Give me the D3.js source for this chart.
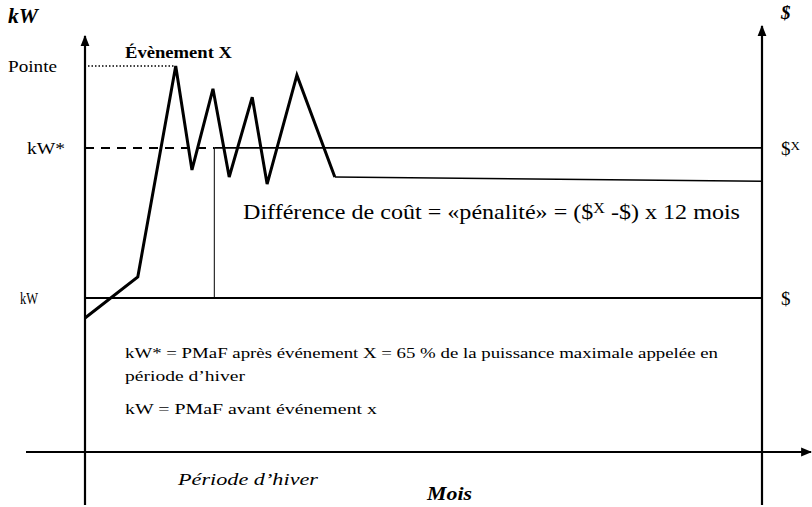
<!DOCTYPE html>
<html>
<head>
<meta charset="utf-8">
<script src="https://cdn.jsdelivr.net/npm/d3@7"></script>
<style>
body{margin:0;background:#fff;}
</style>
</head>
<body>
<div id="appbody"></div>
<script>
// schematic values, x in % of the year, y in % of the kW scale
var curveX = [0, 7.8, 13.4, 15.8, 18.9, 21.3, 24.7, 26.9, 31.3, 36.9];
var curveY = [32.2, 42.1, 92.8, 67.8, 87.3, 66.1, 85.3, 64.4, 90.6, 66.1];
var afterX = [36.9, 100];
var afterY = [66.1, 65.1];
var levelNames = ["Pointe", "kW*", "kW"];
var levelValues = [92.8, 73.1, 37.0];
var eventX = 19.1;
var pointeEndX = 13.3;

var svgwidth = 812, svgheight = 507;
var svg = d3.select("#appbody").append("svg")
	.attr("width", svgwidth).attr("height", svgheight);

var x = d3.scaleLinear().domain([0, 100]).range([85, 762]);
var y = d3.scaleLinear().domain([0, 100]).range([452, 36]);

var defs = svg.append("defs");
defs.append("marker").attr("id","arrow")
	.attr("viewBox","0 0 10 10").attr("refX",9).attr("refY",5)
	.attr("markerWidth",5).attr("markerHeight",5).attr("orient","auto")
	.append("path").attr("d","M0,1L10,5L0,9Z").attr("fill","#000");

// axes
svg.append("line").attr("x1",x(0)).attr("x2",x(0)).attr("y1",505).attr("y2",36)
	.attr("stroke","#000").attr("stroke-width",2.2).attr("marker-end","url(#arrow)");
svg.append("line").attr("x1",x(100)).attr("x2",x(100)).attr("y1",505).attr("y2",26)
	.attr("stroke","#000").attr("stroke-width",2.2).attr("marker-end","url(#arrow)");
svg.append("line").attr("x1",26).attr("x2",811).attr("y1",y(0)).attr("y2",y(0))
	.attr("stroke","#000").attr("stroke-width",2.2).attr("marker-end","url(#arrow)");

// levels
svg.append("line").attr("x1",x(0)+3).attr("x2",x(pointeEndX)).attr("y1",y(levelValues[0])).attr("y2",y(levelValues[0]))
	.attr("stroke","#000").attr("stroke-width",1.6).attr("stroke-dasharray","1.5,2");
svg.append("line").attr("x1",x(0)).attr("x2",x(eventX)).attr("y1",y(levelValues[1])).attr("y2",y(levelValues[1]))
	.attr("stroke","#000").attr("stroke-width",2).attr("stroke-dasharray","9,7");
svg.append("line").attr("x1",x(eventX)).attr("x2",x(100)).attr("y1",y(levelValues[1])).attr("y2",y(levelValues[1]))
	.attr("stroke","#000").attr("stroke-width",1.6);
svg.append("line").attr("x1",x(0)).attr("x2",x(100)).attr("y1",y(levelValues[2])).attr("y2",y(levelValues[2]))
	.attr("stroke","#000").attr("stroke-width",2);
svg.append("line").attr("x1",x(eventX)).attr("x2",x(eventX)).attr("y1",y(levelValues[1])).attr("y2",y(levelValues[2]))
	.attr("stroke","#000").attr("stroke-width",1);

// demand curve
var line = d3.line().x(function(d){return x(d[0]);}).y(function(d){return y(d[1]);});
svg.append("path").datum(d3.zip(curveX, curveY)).attr("d", line)
	.attr("fill","none").attr("stroke","#000").attr("stroke-width",3).attr("stroke-linejoin","miter");
svg.append("path").datum(d3.zip(afterX, afterY)).attr("d", line)
	.attr("fill","none").attr("stroke","#000").attr("stroke-width",1.6);

// labels (the scan is wider than the font, so stretch with textLength)
function txt(px, py, size, s, fs, len){
	var t = svg.append("text").attr("x",px).attr("y",py)
		.style("font", (fs || "") + " " + size + "px 'Liberation Serif'").text(s);
	if(len) t.attr("textLength",len).attr("lengthAdjust","spacingAndGlyphs");
	return t;
}
txt(8,23,20,"kW","italic bold",30);
txt(781,19,19,"$","italic bold");
levelNames.forEach(function(d,i){
	txt([8,27,20][i], y(levelValues[i])+6, 16, d, "", [49,38,18][i]);
});
var sx = txt(781,y(levelValues[1])+7,19,"");
sx.append("tspan").text("$");
sx.append("tspan").attr("dy",-5).style("font-size","13px").text("X");
txt(781,y(levelValues[2])+7,19,"$");
txt(125,58,17,"Évènement X","bold",107);

var dt = txt(243,219,21,"","",497);
dt.append("tspan").text("Différence de coût = «pénalité» = ($");
dt.append("tspan").attr("dy",-6).style("font-size","14px").text("X");
dt.append("tspan").attr("dy",6).text(" -$) x 12 mois");

txt(125,358,15,"kW* = PMaF après événement X = 65 % de la puissance maximale appelée en","",593);
txt(125,381,15,"période d’hiver","",120);
txt(125,414,15,"kW = PMaF avant événement x","",252);
txt(178,485,17,"Période d’hiver","italic",140);
txt(427,500,19,"Mois","italic bold",45);
</script>
</body>
</html>
